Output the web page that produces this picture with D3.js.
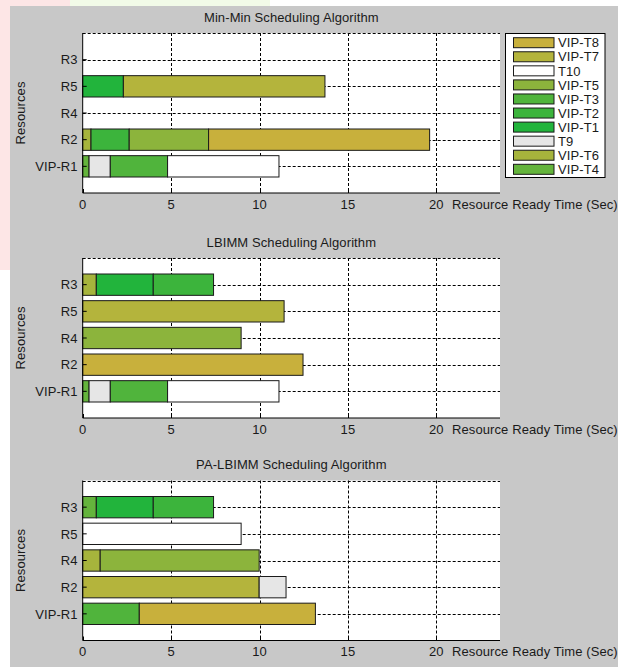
<!DOCTYPE html>
<html>
<head>
<meta charset="utf-8">
<script src="https://cdn.jsdelivr.net/npm/d3@7"></script>
<style>
  html, body { margin: 0; padding: 0; background: #fff; }
  svg { display: block; }
  text { font-family: "Liberation Sans", Arial, sans-serif; fill: #1a1a1a; letter-spacing: 0.1px; }
</style>
</head>
<body>
<svg id="chart" width="618" height="667"></svg>
<script>
// resources, bottom to top (y = 1..5)
const resources = ['VIP-R1', 'R2', 'R4', 'R5', 'R3'];

// legend order and colours
const tasks = ['VIP-T8', 'VIP-T7', 'T10', 'VIP-T5', 'VIP-T3', 'VIP-T2', 'VIP-T1', 'T9', 'VIP-T6', 'VIP-T4'];
const taskColors = ['#c8b03c', '#b4b43c', '#ffffff', '#8cb43c', '#50b43c', '#3cb43c', '#22b43c', '#e6e6e6', '#a6b43c', '#64b43c'];

const xTicks = [0, 5, 10, 15, 20];
const titles = ['Min-Min Scheduling Algorithm', 'LBIMM Scheduling Algorithm', 'PA-LBIMM Scheduling Algorithm'];

// [resource, task, finish time] - each task starts where the previous one on that resource ended
const minMinSchedule = [
    ['R5', 'VIP-T1', 2.3], ['R5', 'VIP-T7', 13.7],
    ['R2', 'VIP-T6', 0.47], ['R2', 'VIP-T2', 2.63], ['R2', 'VIP-T5', 7.12], ['R2', 'VIP-T8', 19.62],
    ['VIP-R1', 'VIP-T4', 0.36], ['VIP-R1', 'T9', 1.56], ['VIP-R1', 'VIP-T3', 4.8], ['VIP-R1', 'T10', 11.1]
];
const lbimmSchedule = [
    ['R3', 'VIP-T6', 0.77], ['R3', 'VIP-T1', 3.99], ['R3', 'VIP-T2', 7.4],
    ['R5', 'VIP-T7', 11.39],
    ['R4', 'VIP-T5', 8.96],
    ['R2', 'VIP-T8', 12.46],
    ['VIP-R1', 'VIP-T4', 0.36], ['VIP-R1', 'T9', 1.56], ['VIP-R1', 'VIP-T3', 4.8], ['VIP-R1', 'T10', 11.1]
];
const paLbimmSchedule = [
    ['R3', 'VIP-T4', 0.77], ['R3', 'VIP-T1', 3.99], ['R3', 'VIP-T2', 7.4],
    ['R5', 'T10', 8.96],
    ['R4', 'VIP-T6', 0.99], ['R4', 'VIP-T5', 9.98],
    ['R2', 'VIP-T7', 9.98], ['R2', 'T9', 11.5],
    ['VIP-R1', 'VIP-T3', 3.2], ['VIP-R1', 'VIP-T8', 13.16]
];
const schedules = [minMinSchedule, lbimmSchedule, paLbimmSchedule];

const svg = d3.select('#chart');
const W = 618, H = 667;
const fontSize = '13px';

// page around the figure
svg.append('rect').attr('width', W).attr('height', H).attr('fill', '#ffffff');
svg.append('rect').attr('x', 0).attr('y', 0).attr('width', 10).attr('height', 270).attr('fill', '#fde6e6');
svg.append('rect').attr('x', 10).attr('y', 0).attr('width', 60).attr('height', 6).attr('fill', '#fde6e6');
svg.append('rect').attr('x', 70).attr('y', 0).attr('width', 200).attr('height', 6).attr('fill', '#f2fbe8');
// figure background
svg.append('rect').attr('x', 10).attr('y', 6).attr('width', W - 10).attr('height', H - 6).attr('fill', '#c8c8c8');

const colorOf = d3.scaleOrdinal().domain(tasks).range(taskColors);
const plotLeft = 82.7, plotRight = 500, plotH = 160;
const panelTops = [33, 258, 480.5];

const x = d3.scaleLinear().domain([0, 23.6]).range([plotLeft, plotRight]);

schedules.forEach((schedule, pi) => {
    const top = panelTops[pi];
    const y = d3.scaleLinear().domain([0, 6]).range([top + plotH, top]);
    const g = svg.append('g');

    // plot area
    g.append('rect')
        .attr('x', plotLeft).attr('y', top)
        .attr('width', plotRight - plotLeft).attr('height', plotH)
        .attr('fill', '#ffffff');

    // dotted grid
    g.selectAll('.hgrid').data(d3.range(1, 7)).join('line')
        .attr('x1', plotLeft).attr('x2', plotRight)
        .attr('y1', d => Math.round(y(d)) + 0.5).attr('y2', d => Math.round(y(d)) + 0.5)
        .attr('stroke', '#000').attr('stroke-width', 1).attr('stroke-dasharray', '3,2');
    g.selectAll('.vgrid').data(xTicks.slice(1)).join('line')
        .attr('x1', d => Math.round(x(d)) + 0.5).attr('x2', d => Math.round(x(d)) + 0.5)
        .attr('y1', top).attr('y2', top + plotH)
        .attr('stroke', '#000').attr('stroke-width', 1).attr('stroke-dasharray', '3,2');

    // stacked bars
    const prevEnd = {};
    const segs = schedule.map(([res, task, end]) => {
        const start = prevEnd[res] || 0;
        prevEnd[res] = end;
        return { res, task, start, end };
    });
    const barH = y(0) - y(0.8);
    g.selectAll('.seg').data(segs).join('rect')
        .attr('x', d => x(d.start))
        .attr('width', d => x(d.end) - x(d.start))
        .attr('y', d => y(resources.indexOf(d.res) + 1) - barH / 2)
        .attr('height', barH)
        .attr('fill', d => colorOf(d.task))
        .attr('stroke', '#1a1a1a').attr('stroke-width', 1);

    // axes lines
    g.append('line').attr('x1', plotLeft).attr('x2', plotLeft)
        .attr('y1', top).attr('y2', top + plotH).attr('stroke', '#000');
    g.append('line').attr('x1', plotLeft).attr('x2', plotRight)
        .attr('y1', top + plotH).attr('y2', top + plotH).attr('stroke', '#000');

    // inward ticks
    g.selectAll('.xt').data(xTicks).join('line')
        .attr('x1', d => Math.round(x(d)) + 0.5).attr('x2', d => Math.round(x(d)) + 0.5)
        .attr('y1', top + plotH).attr('y2', top + plotH - 4).attr('stroke', '#000');
    g.selectAll('.yt').data(d3.range(1, 6)).join('line')
        .attr('x1', plotLeft).attr('x2', plotLeft + 4)
        .attr('y1', d => y(d)).attr('y2', d => y(d)).attr('stroke', '#000');

    // tick labels
    g.selectAll('.xl').data(xTicks).join('text')
        .attr('x', d => x(d)).attr('y', top + plotH + 15.5)
        .attr('text-anchor', 'middle').attr('font-size', fontSize)
        .text(d => d);
    g.selectAll('.yl').data(resources).join('text')
        .attr('x', plotLeft - 5).attr('y', (d, i) => y(i + 1))
        .attr('dy', '0.36em')
        .attr('text-anchor', 'end').attr('font-size', fontSize)
        .text(d => d);

    // labels
    g.append('text')
        .attr('x', (plotLeft + plotRight) / 2).attr('y', top - 11.5)
        .attr('text-anchor', 'middle').attr('font-size', fontSize)
        .text(titles[pi]);
    g.append('text')
        .attr('x', 452).attr('y', top + plotH + 15.5)
        .attr('font-size', fontSize)
        .text('Resource Ready Time (Sec)');
    g.append('text')
        .attr('transform', `translate(24.5,${top + plotH / 2}) rotate(-90)`)
        .attr('text-anchor', 'middle').attr('font-size', fontSize)
        .text('Resources');
});

// legend (first panel only)
const legend = svg.append('g');
legend.append('rect')
    .attr('x', 505.5).attr('y', 33.5).attr('width', 99.5).attr('height', 144)
    .attr('fill', '#ffffff').attr('stroke', '#000');
const ly = d3.scalePoint().domain(tasks).range([42.7, 169.3]);
legend.selectAll('.sw').data(tasks).join('rect')
    .attr('x', 513.5).attr('y', d => ly(d) - 5)
    .attr('width', 40.5).attr('height', 10)
    .attr('fill', d => colorOf(d))
    .attr('stroke', '#1a1a1a');
legend.selectAll('.lt').data(tasks).join('text')
    .attr('x', 558).attr('y', d => ly(d)).attr('dy', '0.36em')
    .attr('font-size', fontSize)
    .text(d => d);
</script>
</body>
</html>
